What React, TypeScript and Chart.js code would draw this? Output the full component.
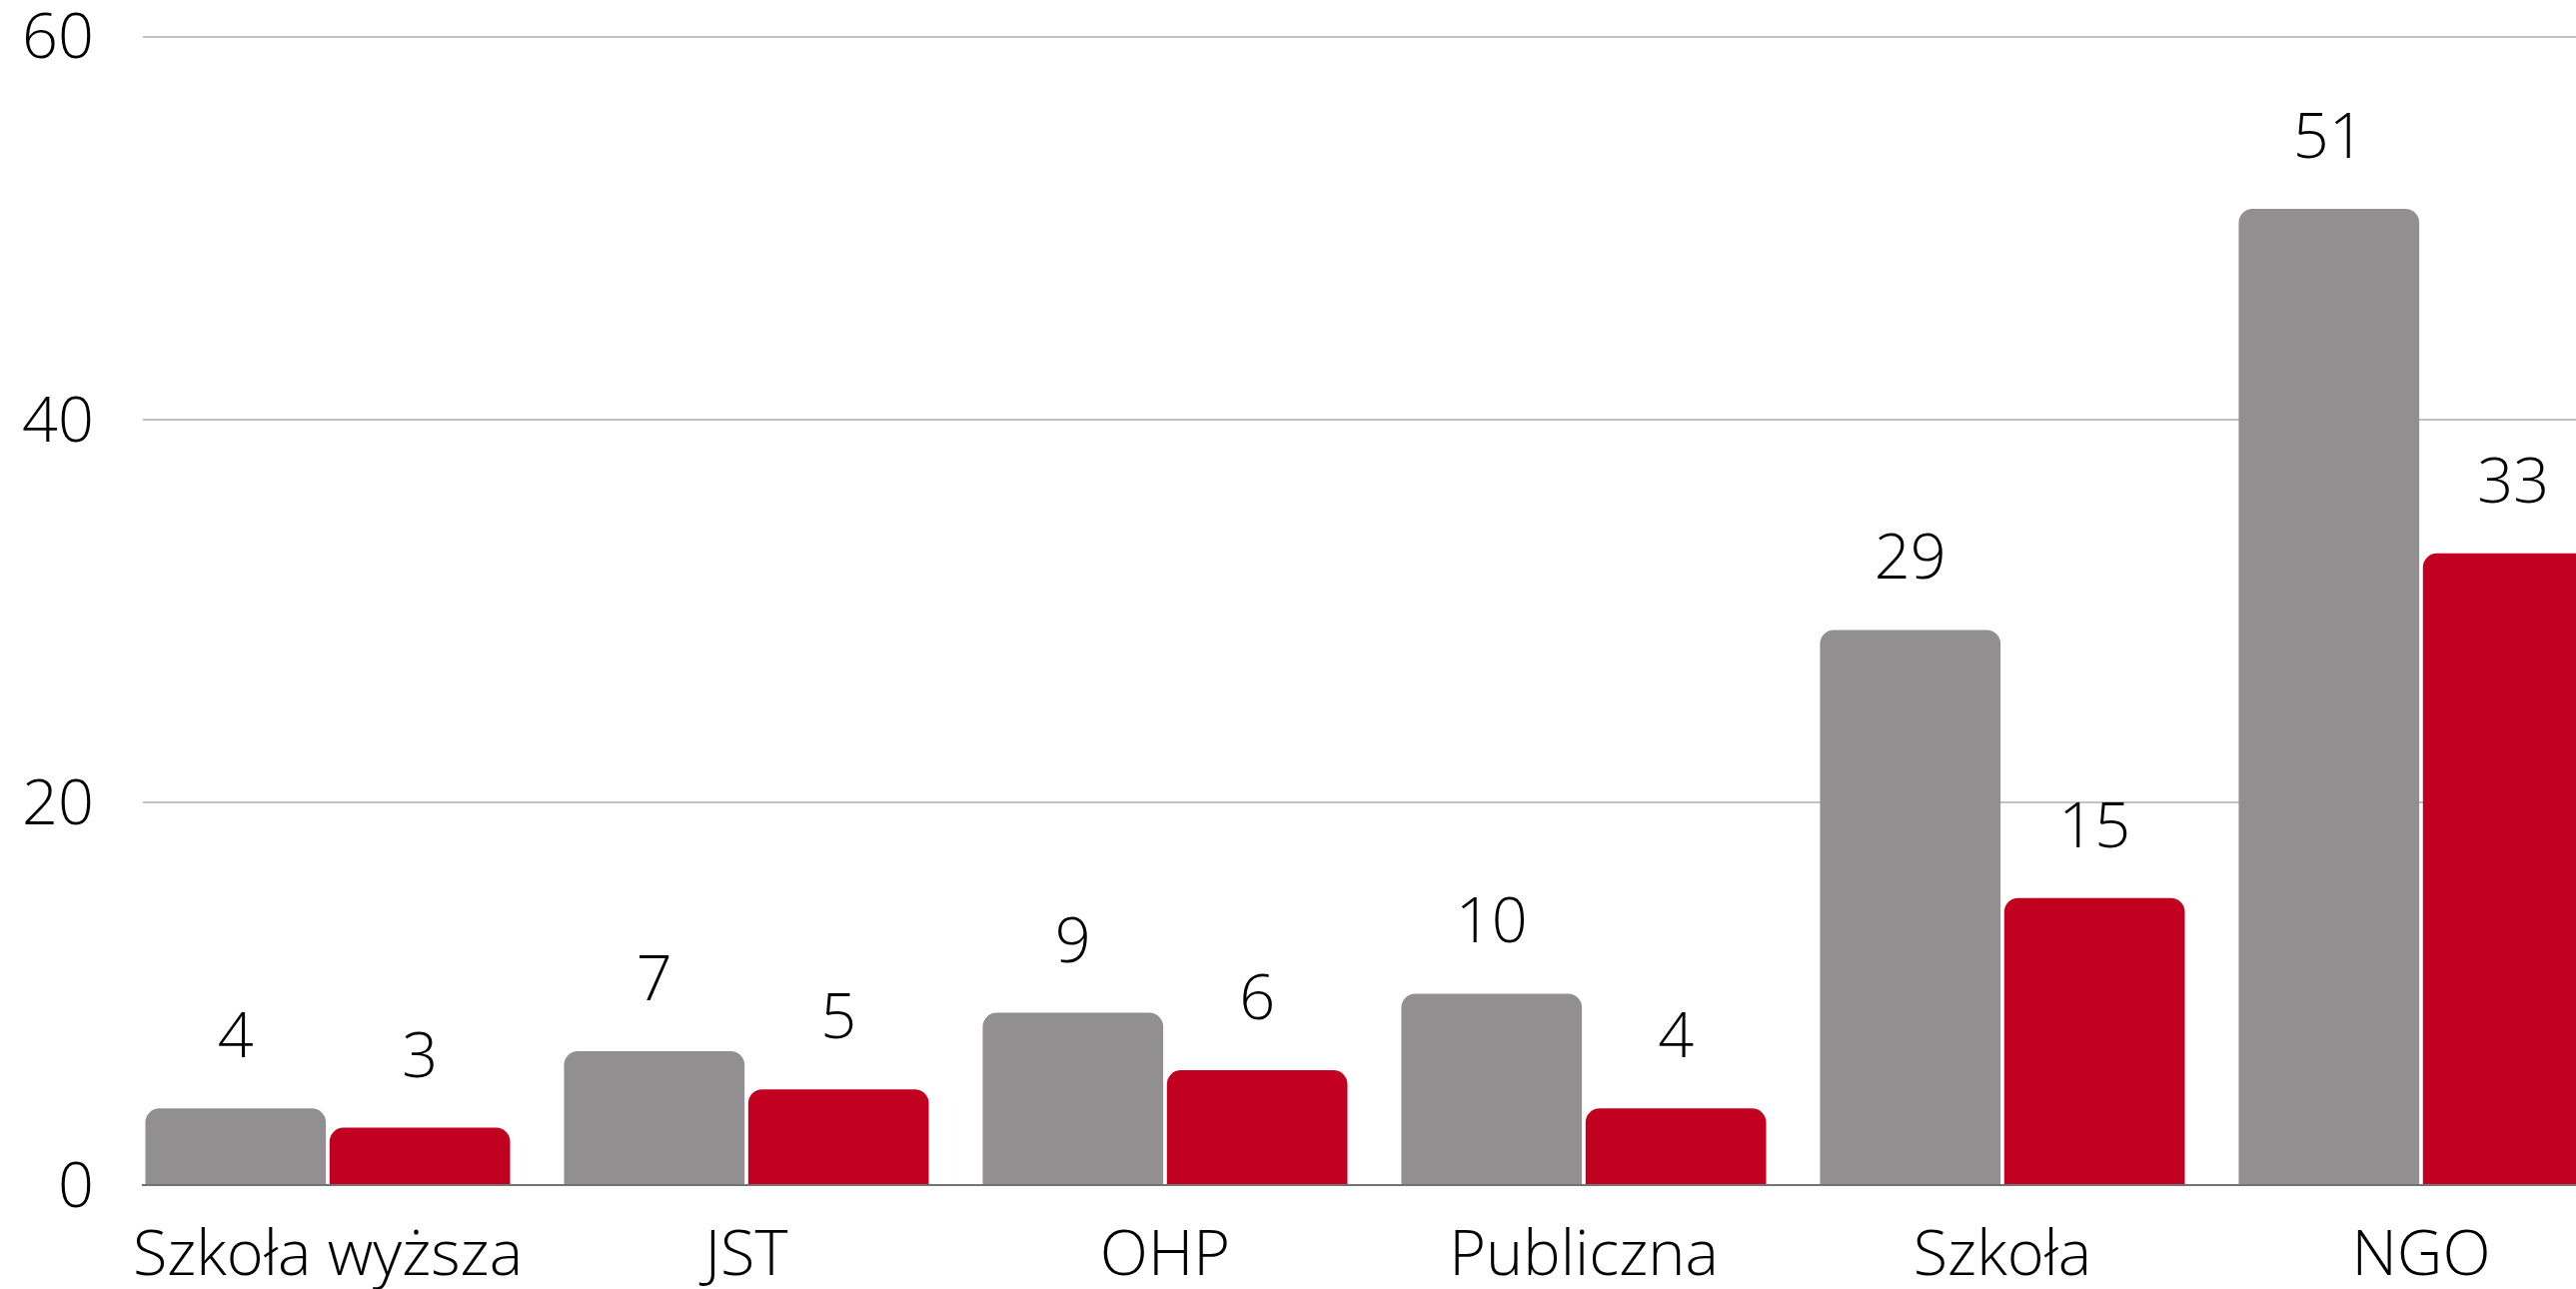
import React, { useEffect, useRef } from "react";
import { Chart, registerables } from "chart.js";

Chart.register(...registerables);

const categories = ["Szkoła wyższa", "JST", "OHP", "Publiczna", "Szkoła", "NGO"];
const seriesGray = [4, 7, 9, 10, 29, 51];
const seriesRed = [3, 5, 6, 4, 15, 33];
const yTicks = [0, 20, 40, 60];

const X_MIN = -0.4415;
const X_MAX = 5.518;

const FONT_FAMILY = "'Open Sans', 'Noto Sans', sans-serif";
const FONT_SIZE = 63;
const GRAY = "#918f90";
const RED = "#c2001f";

const valueLabels = {
  id: "valueLabels",
  afterDatasetsDraw(chart: any) {
    const ctx = chart.ctx;
    ctx.save();
    ctx.font = `300 ${FONT_SIZE}px ${FONT_FAMILY}`;
    ctx.fillStyle = "#000";
    ctx.textAlign = "center";
    ctx.textBaseline = "alphabetic";
    chart.data.datasets.forEach((ds: any, di: number) => {
      const meta = chart.getDatasetMeta(di);
      meta.data.forEach((el: any, i: number) => {
        const v = ds.data[i].y;
        ctx.fillText(String(v), el.x, el.y - 51);
      });
    });
    ctx.restore();
  },
};

export default function App() {
  const ref = useRef<HTMLCanvasElement | null>(null);

  useEffect(() => {
    if (!ref.current) return;
    const chart = new Chart(ref.current, {
      type: "bar",
      data: {
        datasets: [
          {
            label: "Seria 1",
            data: seriesGray.map((v, i) => ({ x: i, y: v })),
            backgroundColor: GRAY,
            borderRadius: 14,
            borderSkipped: "bottom",
          },
          {
            label: "Seria 2",
            data: seriesRed.map((v, i) => ({ x: i, y: v })),
            backgroundColor: RED,
            borderRadius: 14,
            borderSkipped: "bottom",
          },
        ],
      },
      options: {
        responsive: false,
        animation: false,
        events: [],
        datasets: {
          bar: { categoryPercentage: 0.88, barPercentage: 0.98 },
        },
        layout: { padding: { top: 36.5, left: 0, right: 0, bottom: 0 } },
        plugins: {
          legend: { display: false },
          tooltip: { enabled: false },
        },
        scales: {
          x: {
            type: "linear",
            offset: false,
            bounds: "data",
            min: X_MIN,
            max: X_MAX,
            grid: { display: false, drawTicks: false, offset: false },
            border: { display: true, color: "#737373", width: 2 },
            afterDataLimits: (scale: any) => {
              scale.min = X_MIN;
              scale.max = X_MAX;
            },
            afterBuildTicks: (scale: any) => {
              scale.ticks = categories.map((_, i) => ({ value: i }));
              scale.min = X_MIN;
              scale.max = X_MAX;
            },
            afterFit: (scale: any) => {
              scale.height = 104;
              scale.paddingLeft = 0;
              scale.paddingRight = 0;
            },
            ticks: {
              padding: 34,
              color: "#000",
              maxRotation: 0,
              autoSkip: false,
              font: { family: FONT_FAMILY, size: FONT_SIZE, weight: "300" as any },
              callback: (value: any) => categories[Math.round(Number(value))] ?? "",
            },
          },
          y: {
            min: 0,
            max: 60,
            grid: {
              drawTicks: false,
              lineWidth: 2,
              color: (c: any) => (c.tick && c.tick.value === 0 ? "rgba(0,0,0,0)" : "#c2c2c2"),
            },
            border: { display: false },
            afterBuildTicks: (scale: any) => {
              scale.ticks = yTicks.map((v) => ({ value: v }));
            },
            afterFit: (scale: any) => {
              scale.width = 143;
              scale.paddingTop = 0;
              scale.paddingBottom = 0;
            },
            ticks: {
              padding: 49,
              labelOffset: 4,
              color: "#000",
              font: { family: FONT_FAMILY, size: FONT_SIZE, weight: "300" as any },
            },
          },
        },
      },
      plugins: [valueLabels],
    });
    return () => chart.destroy();
  }, []);

  return (
    <div
      style={{
        position: "fixed",
        left: 0,
        top: 0,
        width: "100vw",
        height: "100vh",
        overflow: "hidden",
        background: "#fff",
      }}
    >
      <canvas ref={ref} width={2640} height={1290} style={{ display: "block" }} />
    </div>
  );
}
